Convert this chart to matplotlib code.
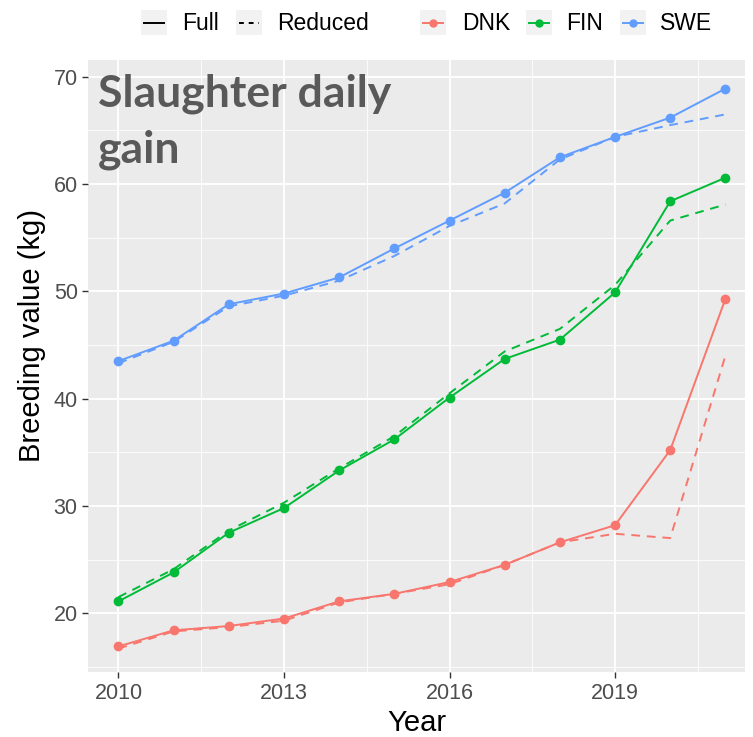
import matplotlib
matplotlib.use("Agg")
import matplotlib.pyplot as plt
from matplotlib.lines import Line2D
from matplotlib.patches import Rectangle
from matplotlib.ticker import MultipleLocator

years = list(range(2010, 2022))

# breeding values (kg), full data set
dnk_full = [16.9, 18.4, 18.8, 19.5, 21.1, 21.8, 22.9, 24.5, 26.6, 28.2, 35.2, 49.3]
fin_full = [21.1, 23.8, 27.5, 29.8, 33.3, 36.2, 40.1, 43.7, 45.5, 49.9, 58.4, 60.6]
swe_full = [43.5, 45.4, 48.8, 49.8, 51.3, 54.0, 56.6, 59.2, 62.5, 64.4, 66.2, 68.9]

# breeding values (kg), reduced data set
dnk_red = [16.7, 18.3, 18.7, 19.3, 21.0, 21.8, 22.7, 24.5, 26.6, 27.4, 27.0, 44.0]
fin_red = [21.5, 24.1, 27.7, 30.3, 33.5, 36.5, 40.5, 44.4, 46.5, 50.6, 56.6, 58.1]
swe_red = [43.3, 45.3, 48.6, 49.6, 51.0, 53.3, 56.1, 58.2, 62.3, 64.4, 65.5, 66.5]

countries = ['DNK', 'FIN', 'SWE']
colors = ['#F8766D', '#00BA38', '#619CFF']
full = [dnk_full, fin_full, swe_full]
reduced = [dnk_red, fin_red, swe_red]

plt.rcParams['font.family'] = ['Liberation Sans', 'DejaVu Sans']

fig = plt.figure(figsize=(7.53, 7.37), dpi=100)
ax = fig.add_axes([0.117, 0.088, 0.872, 0.831])
ax.set_facecolor('#EBEBEB')
for s in ax.spines.values():
    s.set_visible(False)

for f, r, c in zip(full, reduced, colors):
    ax.plot(years, r, color=c, lw=1.4, linestyle=(0, (4.5, 3.5)))
    ax.plot(years, f, color=c, lw=1.4, marker='o', ms=6)

ax.set_xlim(2009.45, 2021.35)
ax.set_ylim(14.5, 71.6)
ax.set_xticks([2010, 2013, 2016, 2019])
ax.xaxis.set_minor_locator(MultipleLocator(1.5))
ax.yaxis.set_major_locator(MultipleLocator(10))
ax.yaxis.set_minor_locator(MultipleLocator(5))
ax.grid(which='major', color='white', lw=1.3)
ax.grid(which='minor', color='white', lw=0.6)
ax.set_axisbelow(True)
ax.tick_params(which='major', length=4, width=1, color='#333333',
               labelsize=15.5, labelcolor='#4D4D4D')
ax.tick_params(which='minor', length=0)

ax.set_xlabel('Year', fontsize=21, labelpad=4)
ax.set_ylabel('Breeding value (kg)', fontsize=21)
ax.yaxis.set_label_coords(-0.064, 0.55)

ax.text(0.015, 0.923, 'Slaughter daily', transform=ax.transAxes,
        fontsize=32, fontweight='bold', family='Lato', color='#595959',
        va='baseline', ha='left')
ax.text(0.015, 0.832, 'gain', transform=ax.transAxes,
        fontsize=32, fontweight='bold', family='Lato', color='#595959',
        va='baseline', ha='left')

# legend row along the top
W, H = fig.get_size_inches() * fig.dpi
yc = 1 - 23 / H


def key(x0, label, tx, color, ls, marker):
    fig.patches.append(Rectangle((x0 / W, 1 - 35 / H), 26 / W, 25 / H,
                                 transform=fig.transFigure,
                                 facecolor='#F2F2F2', edgecolor='none'))
    fig.lines.append(Line2D([(x0 + 3) / W, (x0 + 23) / W], [yc, yc],
                            transform=fig.transFigure, color=color, lw=1.4,
                            linestyle=ls))
    if marker:
        fig.lines.append(Line2D([(x0 + 13) / W], [yc],
                                transform=fig.transFigure, color=color,
                                marker='o', ms=5, lw=0))
    fig.text(tx / W, yc, label, fontsize=16.5, va='center', ha='left')


key(141, 'Full', 182, 'black', '-', False)
key(236, 'Reduced', 277, 'black', (0, (2.5, 2.5)), False)
for x0, tx, name, c in zip([420, 526, 620], [462, 566, 660], countries, colors):
    key(x0, name, tx, c, '-', True)

fig.savefig('out.png', dpi=100)
